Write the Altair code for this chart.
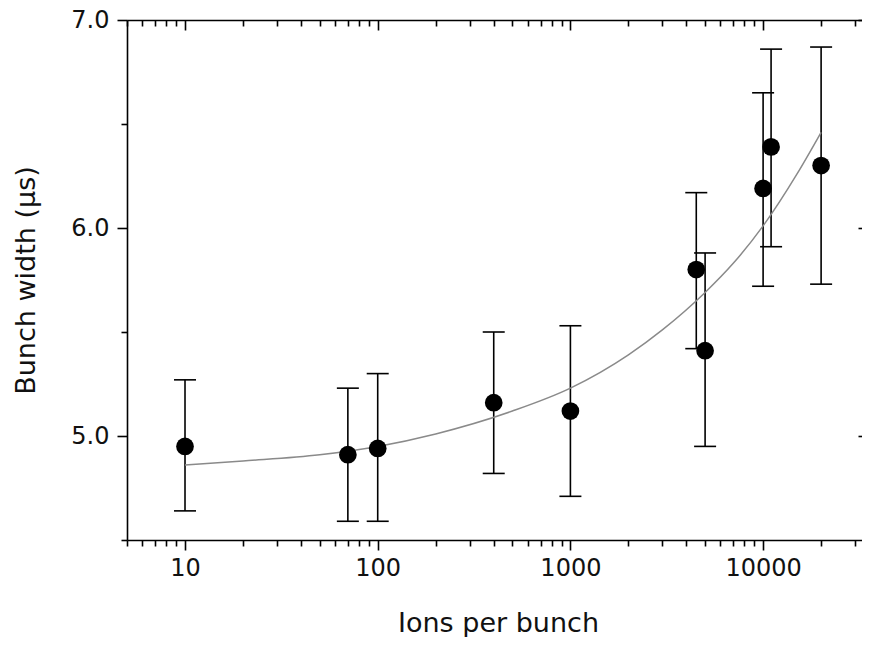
import altair as alt
import pandas as pd

# ---- data ----
ions = [10, 70, 100, 400, 1000, 4500, 5000, 10000, 11000, 20000]
width_us = [4.95, 4.91, 4.94, 5.16, 5.12, 5.80, 5.41, 6.19, 6.39, 6.30]
err_low = [4.64, 4.59, 4.59, 4.82, 4.71, 5.42, 4.95, 5.72, 5.91, 5.73]
err_high = [5.27, 5.23, 5.30, 5.50, 5.53, 6.17, 5.88, 6.65, 6.86, 6.87]

fit_ions = [10, 20, 50, 100, 200, 500, 1000, 2000, 3000, 5000, 7000, 10000, 15000, 20000]
fit_width = [4.86, 4.88, 4.91, 4.95, 5.01, 5.12, 5.23, 5.39, 5.51, 5.69, 5.83, 6.01, 6.26, 6.46]

x_major_ticks = [10, 100, 1000, 10000]
x_minor_ticks = [5, 6, 7, 8, 9, 20, 30, 40, 50, 60, 70, 80, 90,
                 200, 300, 400, 500, 600, 700, 800, 900,
                 2000, 3000, 4000, 5000, 6000, 7000, 8000, 9000,
                 20000, 30000]
y_major_ticks = [5.0, 6.0, 7.0]
y_minor_ticks = [4.5, 5.5, 6.5]

x_title = "Ions per bunch"
y_title = "Bunch width (\u00b5s)"

pts = pd.DataFrame({"ions": ions, "width": width_us, "lo": err_low, "hi": err_high})
caps = pd.concat([
    pd.DataFrame({"ions": ions, "cap": err_low}),
    pd.DataFrame({"ions": ions, "cap": err_high}),
])
fit = pd.DataFrame({"ions": fit_ions, "width": fit_width})

FONT = "DejaVu Sans"
W, H = 735, 520

xscale = alt.Scale(type="log", domain=[5, 32600], nice=False)
yscale = alt.Scale(domain=[4.5, 7.0], zero=False, nice=False)

x_major_test = "indexof([10, 100, 1000, 10000], datum.value) >= 0"
y_major_test = "abs(datum.value - round(datum.value)) < 0.001"

common = dict(grid=False, tickColor="black", tickWidth=1.6,
              domainColor="black", domainWidth=1.6,
              labelFont=FONT, labelColor="#111111", titleFont=FONT,
              titleColor="#111111", titleFontWeight="normal")

bottom_axis = alt.Axis(
    orient="bottom", values=x_major_ticks + x_minor_ticks, domain=True,
    labelExpr=f"{x_major_test} ? format(datum.value, 'd') : ''",
    tickSize={"condition": {"test": x_major_test, "value": 10}, "value": 6},
    labelFontSize=24, labelPadding=6, labelOverlap=False, labelFlush=False,
    title=x_title, titleFontSize=27, titleX=371, titleY=91,
    titleAlign="center", titleBaseline="alphabetic", **common)

left_axis = alt.Axis(
    orient="left", values=y_minor_ticks + y_major_ticks, domain=True,
    labelExpr=f"{y_major_test} ? format(datum.value, '.1f') : ''",
    tickSize={"condition": {"test": y_major_test, "value": 10}, "value": 6},
    labelFontSize=24, labelPadding=8, labelOverlap=False, labelFlush=False,
    title=y_title, titleFontSize=27, titleX=-93, titleY=H / 2,
    titleAngle=270, titleAlign="center", titleBaseline="alphabetic", **common)

top_major_axis = alt.Axis(orient="top", values=x_major_ticks, tickSize=10,
                          offset=-10, labels=False, title="", domain=False, **common)
top_minor_axis = alt.Axis(orient="top", values=x_minor_ticks, tickSize=6,
                          offset=-6, labels=False, title="", domain=False, **common)
top_line_axis = alt.Axis(orient="top", ticks=False, labels=False, title="",
                         domain=True, **common)
right_axis = alt.Axis(orient="right", values=y_major_ticks, tickSize=4,
                      offset=-4, labels=False, title="", domain=False, **common)

bars = alt.Chart(pts).mark_rule(color="black", strokeWidth=1.6).encode(
    x=alt.X("ions:Q", scale=xscale, axis=top_major_axis),
    y=alt.Y("lo:Q", scale=yscale, axis=right_axis),
    y2="hi:Q",
)

cap_marks = alt.Chart(caps).mark_tick(
    orient="horizontal", size=22, thickness=1.6, color="black", opacity=1
).encode(
    x=alt.X("ions:Q", scale=xscale, axis=top_minor_axis),
    y=alt.Y("cap:Q", scale=yscale, axis=None),
)

fit_line = alt.Chart(fit).mark_line(
    color="#8a8a8a", strokeWidth=1.5, interpolate="monotone"
).encode(
    x=alt.X("ions:Q", scale=xscale, axis=bottom_axis),
    y=alt.Y("width:Q", scale=yscale, axis=left_axis),
)

points = alt.Chart(pts).mark_circle(size=314, color="black", opacity=1).encode(
    x=alt.X("ions:Q", scale=xscale, axis=top_line_axis),
    y=alt.Y("width:Q", scale=yscale, axis=None),
)

chart = alt.layer(bars, cap_marks, fit_line, points).resolve_axis(
    x="independent", y="independent"
).properties(
    width=W, height=H,
    autosize=alt.AutoSizeParams(type="none"),
    padding={"left": 119, "top": 12, "right": 0, "bottom": 97},
    background="white",
).configure_view(strokeWidth=0)

chart.save("out.html", embed_options={"renderer": "svg", "actions": False})
